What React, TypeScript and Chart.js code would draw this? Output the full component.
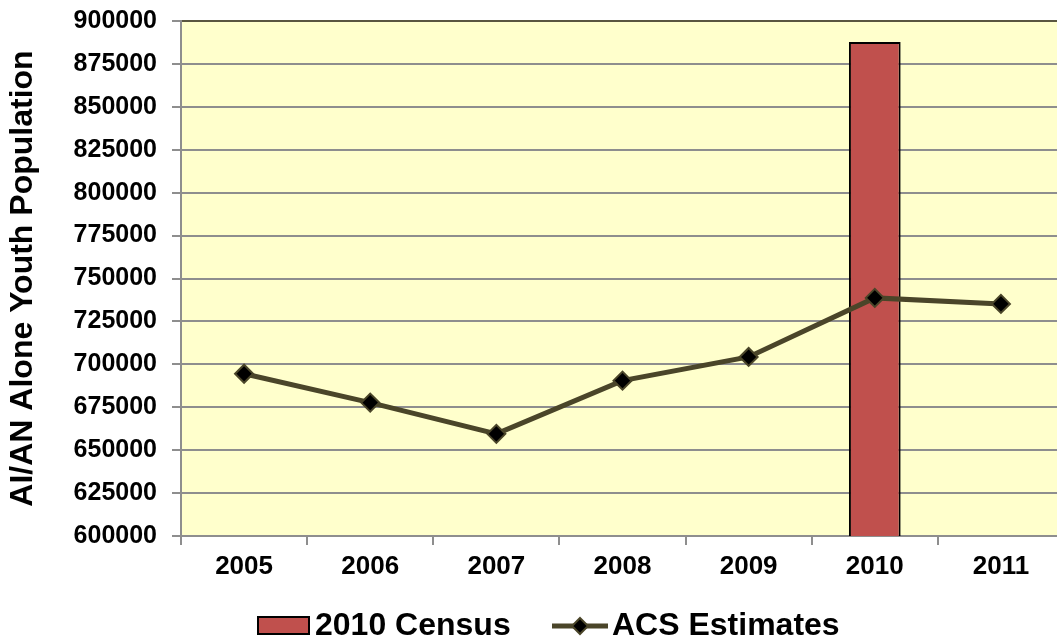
import React, { useEffect, useRef } from "react";
import { Chart, registerables } from "chart.js";

Chart.register(...registerables);

const years = ["2005", "2006", "2007", "2008", "2009", "2010", "2011"];
const censusValues = [null, null, null, null, null, 887800, null];
const acsValues = [694500, 677700, 659500, 690500, 704300, 738700, 735200];
const yMin = 600000;
const yMax = 900000;
const yStep = 25000;

const FONT = "'Liberation Sans', Arial, sans-serif";
const BAR_COLOR = "#C0504D";
const LINE_COLOR = "#4A4529";
const GRID = "#8E8E8E";

const bgPlugin = {
  id: "plotBg",
  beforeDraw(chart: any) {
    const { ctx, chartArea } = chart;
    ctx.save();
    ctx.fillStyle = "#FFFFCC";
    ctx.fillRect(chartArea.left, chartArea.top, chartArea.right - chartArea.left, chartArea.bottom - chartArea.top);
    ctx.restore();
  },
};

const legendPlugin = {
  id: "customLegend",
  afterDraw(chart: any) {
    const { ctx } = chart;
    const ds = chart.data.datasets;
    const cy = 625;
    ctx.save();
    ctx.font = `bold 32px ${FONT}`;
    ctx.textBaseline = "middle";
    // bar item
    ctx.fillStyle = ds[0].backgroundColor;
    ctx.fillRect(258, 617, 51, 17);
    ctx.strokeStyle = "#000";
    ctx.lineWidth = 2;
    ctx.strokeRect(258, 617, 51, 17);
    ctx.fillStyle = "#000";
    ctx.textAlign = "left";
    ctx.fillText(ds[0].label, 315, cy + 1);
    // line item
    ctx.strokeStyle = ds[1].borderColor;
    ctx.lineWidth = 5;
    ctx.beginPath();
    ctx.moveTo(552, cy + 1);
    ctx.lineTo(608, cy + 1);
    ctx.stroke();
    ctx.beginPath();
    const mx = 580, my = cy + 1, r = 8;
    ctx.moveTo(mx, my - r);
    ctx.lineTo(mx + r, my);
    ctx.lineTo(mx, my + r);
    ctx.lineTo(mx - r, my);
    ctx.closePath();
    ctx.fillStyle = "#000";
    ctx.fill();
    ctx.lineWidth = 2;
    ctx.strokeStyle = ds[1].borderColor;
    ctx.stroke();
    ctx.fillStyle = "#000";
    ctx.fillText(ds[1].label, 612, cy + 1);
    ctx.restore();
  },
};

export default function App() {
  const ref = useRef<HTMLCanvasElement | null>(null);
  useEffect(() => {
    if (!ref.current) return;
    const chart = new Chart(ref.current, {
      type: "bar",
      data: {
        labels: years,
        datasets: [
          {
            type: "bar",
            label: "2010 Census",
            data: censusValues as any,
            backgroundColor: BAR_COLOR,
            borderColor: "#000",
            borderWidth: 2,
            barPercentage: 0.41,
            categoryPercentage: 1,
            order: 2,
          },
          {
            type: "line",
            label: "ACS Estimates",
            data: acsValues,
            borderColor: LINE_COLOR,
            borderWidth: 5,
            pointStyle: "rectRot",
            pointRadius: 9,
            pointBackgroundColor: "#000",
            pointBorderColor: LINE_COLOR,
            pointBorderWidth: 2,
            tension: 0,
            order: 1,
          } as any,
        ],
      },
      options: {
        responsive: false,
        animation: false,
        layout: { padding: { left: 0, top: 21, right: 4, bottom: 53 } },
        plugins: { legend: { display: false }, tooltip: { enabled: false } },
        scales: {
          x: {
            offset: true,
            grid: {
              drawOnChartArea: false,
              drawTicks: true,
              tickLength: 9,
              offset: true,
              color: GRID,
              lineWidth: 2,
            },
            border: { color: GRID, width: 2 },
            ticks: {
              color: "#000",
              font: { family: FONT, size: 26, weight: "bold" },
              padding: 6,
              maxRotation: 0,
            },
            afterFit(s: any) {
              s.height = 50;
              s.paddingLeft = 0;
              s.paddingRight = 0;
            },
          },
          y: {
            min: yMin,
            max: yMax,
            ticks: {
              stepSize: yStep,
              color: "#000",
              font: { family: FONT, size: 25, weight: "bold" },
              padding: 15,
              callback: (v: any) => String(v),
            },
            grid: {
              color: (c: any) => (c.tick && c.tick.value === yMax ? "#5A5640" : GRID),
              lineWidth: 2,
              tickLength: 9,
              tickColor: GRID,
            },
            border: { color: GRID, width: 2 },
            title: {
              display: true,
              text: "AI/AN Alone Youth Population",
              color: "#000",
              font: { family: FONT, size: 32, weight: "bold" },
              padding: { top: 4, bottom: 0 },
            },
            afterFit(s: any) {
              s.width = 181;
              s.paddingTop = 0;
              s.paddingBottom = 0;
            },
          },
        },
      },
      plugins: [bgPlugin, legendPlugin],
    });
    return () => chart.destroy();
  }, []);

  return (
    <div
      style={{
        position: "fixed",
        left: 0,
        top: 0,
        width: 1057,
        height: 639,
        overflow: "hidden",
        background: "#fff",
      }}
    >
      <canvas ref={ref} width={1075} height={639} style={{ display: "block", width: 1075, height: 639 }} />
    </div>
  );
}
